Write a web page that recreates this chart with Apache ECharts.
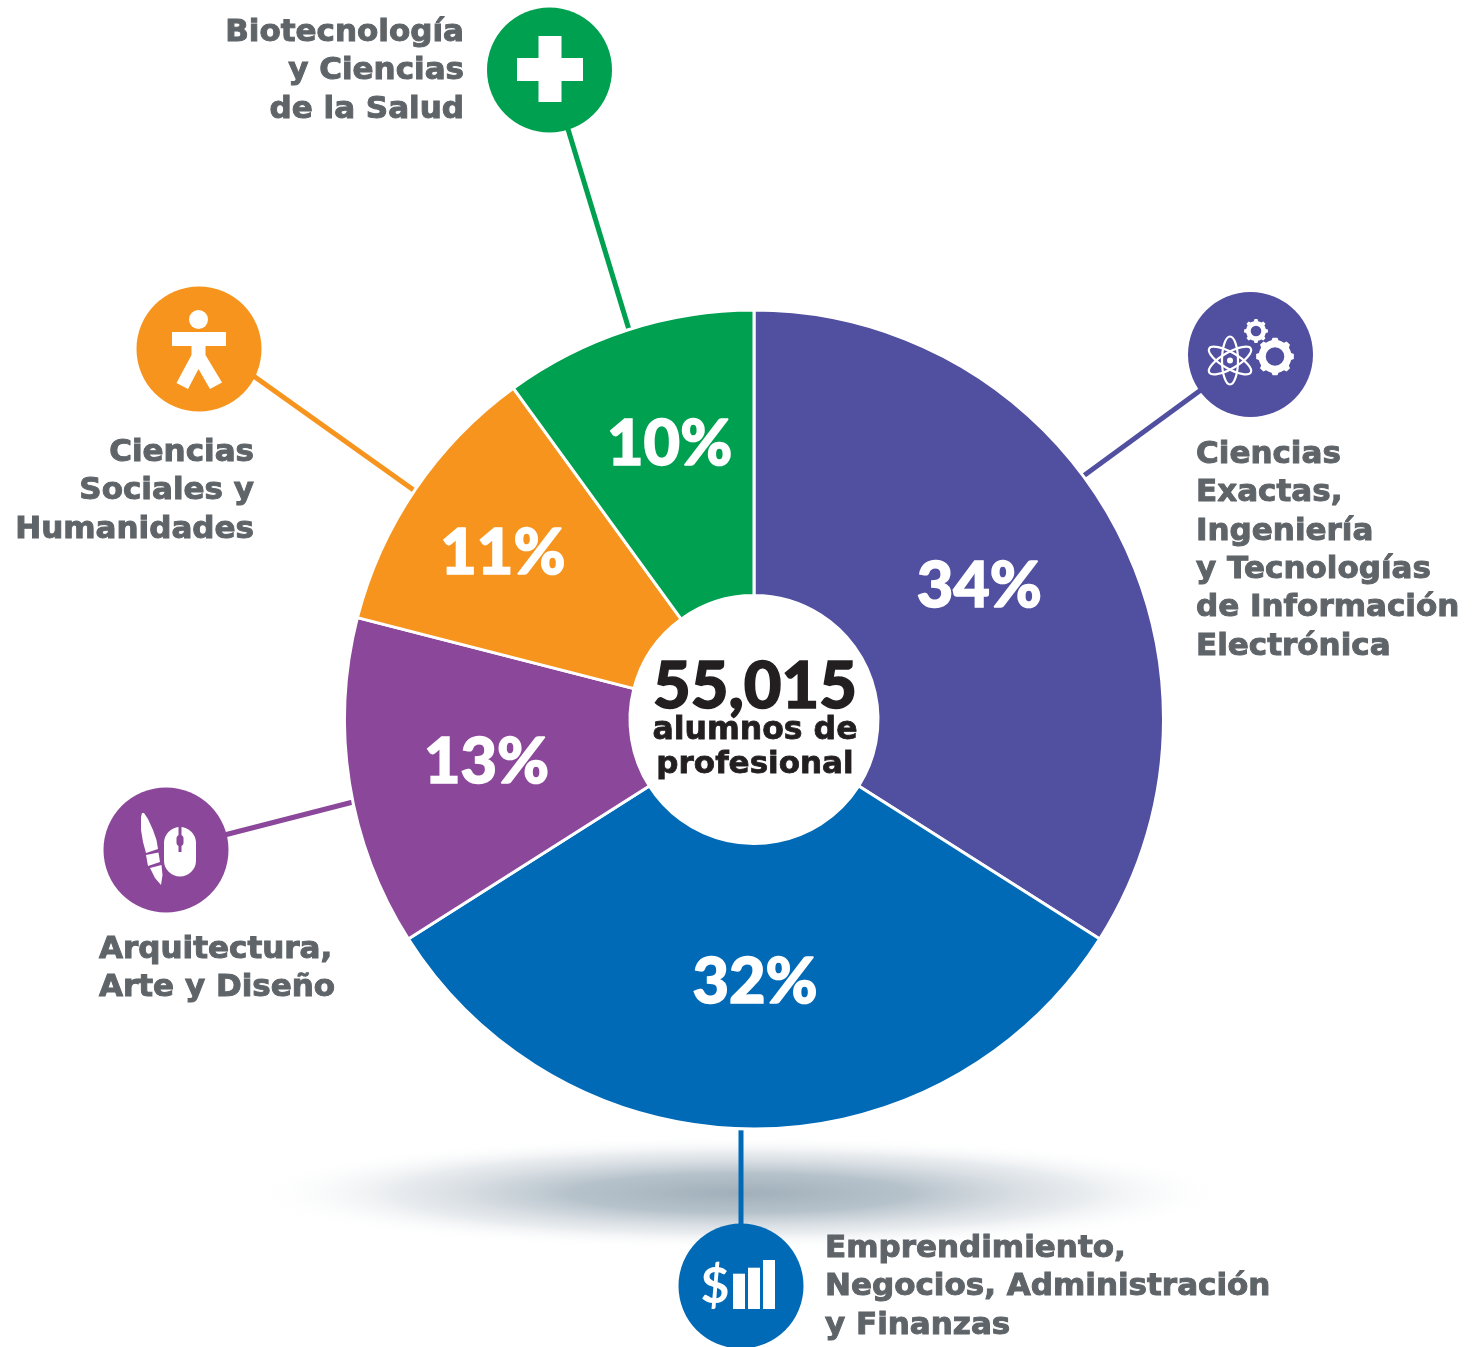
<!DOCTYPE html>
<html><head><meta charset="utf-8">
<style>html,body{margin:0;padding:0;background:#fff}#c{width:1475px;height:1347px}</style>
<script src="https://cdn.jsdelivr.net/npm/echarts@6/dist/echarts.min.js"></script>
</head><body><div id="c"></div>
<script>
const categories = ['Ciencias Exactas, Ingeniería y Tecnologías de Información Electrónica','Emprendimiento, Negocios, Administración y Finanzas','Arquitectura, Arte y Diseño','Ciencias Sociales y Humanidades','Biotecnología y Ciencias de la Salud'];
const values = [34,32,13,11,10];
const colors = ['#514fa0','#006ab7','#8b4799','#f7941e','#00a051'];
const labelNudge = [[-11,-3],[1,-7],[-1,1],[-28,-14],[-1,-18]];
const centerLines = ['55,015','alumnos de','profesional'];
const captionLines = [
  ['left',1196,455,['Ciencias','Exactas,','Ingeniería','y Tecnologías','de Información','Electrónica']],
  ['left',825,1249,['Emprendimiento,','Negocios, Administración','y Finanzas']],
  ['left',99,950,['Arquitectura,','Arte y Diseño']],
  ['right',254,453,['Ciencias','Sociales y','Humanidades']],
  ['right',464,33,['Biotecnología','y Ciencias','de la Salud']]
];
const FONT = '"DejaVu Sans"';
const CAP = 31;

function gear(cx,cy,R,r,n){
  const out=[];
  const step=Math.PI*2/n;
  for(let i=0;i<n;i++){
    const a=i*step;
    [[a-step*.5,r],[a-step*.27,r],[a-step*.16,R],[a+step*.16,R],[a+step*.27,r]].forEach(p=>{
      out.push([cx+p[1]*Math.cos(p[0]),cy+p[1]*Math.sin(p[0])]);
    });
  }
  return out;
}
const W={fill:'#fff'};
const g=[];
// floor shadow
g.push({type:'circle',z:0,x:740,y:1193,scaleY:57/490,shape:{cx:0,cy:0,r:490},style:{fill:new echarts.graphic.RadialGradient(0.5,0.5,0.5,[
  {offset:0,color:'rgba(160,175,186,1)'},{offset:.35,color:'rgba(170,184,194,.85)'},{offset:.7,color:'rgba(200,208,215,.42)'},{offset:1,color:'rgba(255,255,255,0)'}])}});
// leader lines
[[1250,354,1082,477],[741,1286,741,1122],[166,850,357,801],[215,348.5,415,491],[550,70,630,333]].forEach((l,i)=>{
  g.push({type:'line',z:1,shape:{x1:l[0],y1:l[1],x2:l[2],y2:l[3]},style:{stroke:colors[i],lineWidth:5}});
});
// badges
[[1250.5,354.5],[741,1286],[166,850],[199,349],[549.5,70]].forEach((c,i)=>{
  g.push({type:'circle',z:5,shape:{cx:c[0],cy:c[1],r:62.5},style:{fill:colors[i]}});
});
// icon: plus
g.push({type:'rect',z:6,shape:{x:517,y:58,width:66,height:23},style:W});
g.push({type:'rect',z:6,shape:{x:538.5,y:36,width:23,height:66},style:W});
// icon: person
g.push({type:'circle',z:6,shape:{cx:198.5,cy:319.5,r:9.5},style:W});
g.push({type:'rect',z:6,shape:{x:172,y:332,width:54,height:14},style:W});
g.push({type:'polygon',z:6,shape:{points:[[191.5,346],[205.5,346],[205.5,355],[222,382.5],[210,389],[198.5,369],[188,389],[176.5,383],[191.5,355]]},style:W});
// icon: brush + mouse
g.push({type:'polygon',z:6,shape:{points:[[141,817],[142,813],[144,813],[148,819],[153,830],[156.5,840],[158,849],[146,853],[143,842],[141,830]]},style:W});
g.push({type:'polygon',z:6,shape:{points:[[146,855],[158.5,852.5],[160,862],[148,866]]},style:W});
g.push({type:'polygon',z:6,shape:{points:[[150,868],[161.5,865],[162.5,875],[161,885],[155,878]]},style:W});
g.push({type:'rect',z:6,shape:{x:164,y:827,width:32,height:49.5,r:16},style:W});
g.push({type:'rect',z:7,shape:{x:178.5,y:827,width:3,height:25},style:{fill:colors[2]}});
g.push({type:'rect',z:7,shape:{x:176.5,y:835,width:7,height:11,r:3.5},style:{fill:colors[2]}});
// icon: dollar + bars
[[733,1273.7,12,35.3],[748,1267.7,12,41.3],[763,1260,12,49]].forEach(b=>g.push({type:'rect',z:6,shape:{x:b[0],y:b[1],width:b[2],height:b[3]},style:W}));
g.push({type:'text',z:6,style:{text:'$',x:715,y:1287,align:'center',verticalAlign:'middle',font:'bold 50px "Lato"',fill:'#fff'}});
// icon: gears + atom
g.push({type:'polygon',z:6,shape:{points:gear(1256,331,12,10,8)},style:W});
g.push({type:'circle',z:7,shape:{cx:1256,cy:331,r:5.3},style:{fill:colors[0]}});
g.push({type:'polygon',z:6,shape:{points:gear(1275,356.5,19,16.5,8)},style:W});
g.push({type:'circle',z:7,shape:{cx:1275,cy:356.5,r:9.3},style:{fill:colors[0]}});
[0,60,-60].forEach(a=>{
  g.push({type:'ellipse',z:6,x:1230,y:360.5,rotation:a*Math.PI/180,shape:{cx:0,cy:0,rx:8,ry:24},style:{fill:'none',stroke:'#fff',lineWidth:2.2}});
});
g.push({type:'circle',z:6,shape:{cx:1230,cy:360.5,r:3},style:W});
// captions
captionLines.forEach(c=>{
  c[3].forEach((t,j)=>{
    g.push({type:'text',z:6,style:{text:t,x:c[1],y:c[2]+j*38.3,align:c[0],verticalAlign:'middle',font:'bold '+CAP+'px '+FONT,fill:'#5f6469',stroke:'#5f6469',lineWidth:1}});
  });
});
// centre text
[[0,687,'900 65px "Lato"',1.5],[1,731,'bold 31.5px "DejaVu Sans"',.8],[2,765,'bold 31px "DejaVu Sans"',.8]].forEach(r=>{
  g.push({type:'text',z:8,style:{text:centerLines[r[0]],x:755,y:r[1],align:'center',verticalAlign:'middle',font:r[2],fill:'#231f20',stroke:'#231f20',lineWidth:r[3]}});
});

const chart=echarts.init(document.getElementById('c'),null,{renderer:'canvas'});
chart.setOption({
  animation:false,
  backgroundColor:'#fff',
  graphic:{elements:g},
  series:[{
    type:'pie',z:3,center:[754,719.5],radius:[124,409.5],startAngle:90,clockwise:true,silent:true,
    data:values.map((v,i)=>({name:categories[i],value:v,itemStyle:{color:colors[i]},label:{offset:labelNudge[i]}})),
    itemStyle:{borderColor:'#fff',borderWidth:3},
    label:{position:'inside',formatter:'{c}%',color:'#fff',fontFamily:'Lato',fontWeight:900,fontSize:63,textBorderColor:'#fff',textBorderWidth:1.5},
    labelLine:{show:false}
  }]
});
</script></body></html>
